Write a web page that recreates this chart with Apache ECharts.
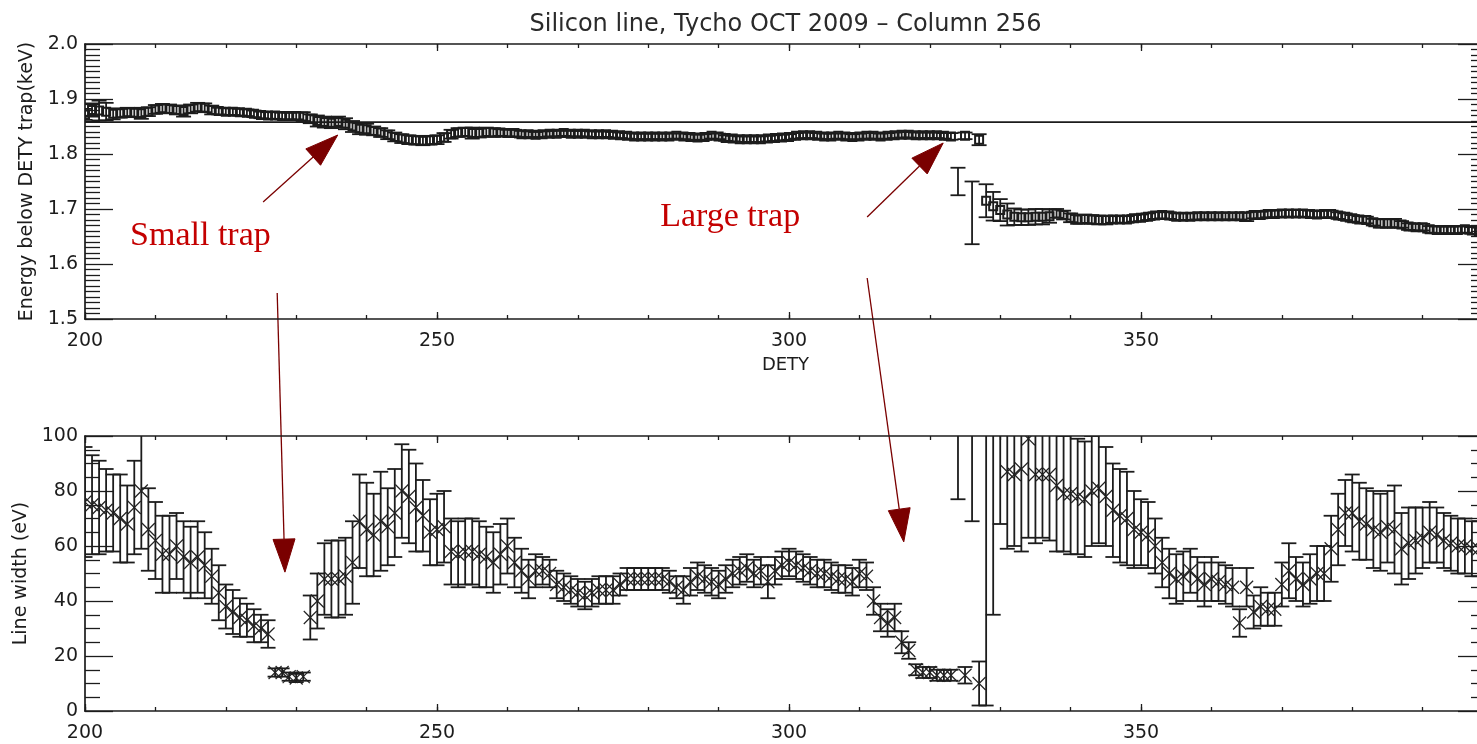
<!DOCTYPE html>
<html>
<head>
<meta charset="utf-8">
<script src="https://cdn.jsdelivr.net/npm/echarts@6/dist/echarts.min.js"></script>
<style>
html, body { margin: 0; padding: 0; background: #fff; overflow: hidden; width: 1477px; height: 744px; }
#c { width: 1500px; height: 744px; }
</style>
</head>
<body>
<div id="c"></div>
<script>
// ---------------- texts ----------------
const titleText = 'Silicon line, Tycho OCT 2009 \u2013 Column 256';
const xAxisName = 'DETY';
const topYAxisName = 'Energy below DETY trap(keV)';
const bottomYAxisName = 'Line width (eV)';

// ---------------- axes / tick labels ----------------
const detyMin = 200;
const detyMax = 399;
const detyTickLabels = [200, 250, 300, 350];
const energyTickLabels = ['1.5', '1.6', '1.7', '1.8', '1.9', '2.0'];
const widthTickLabels = ['0', '20', '40', '60', '80', '100'];

// ---------------- top panel: energy below trap (keV), DETY 200..398 ----------------
const energyStart = 200;
const energy = [
  1.872,1.880,1.879,1.877,1.873,1.874,1.876,1.875,1.874,1.877,
  1.881,1.883,1.882,1.880,1.878,1.882,1.885,1.884,1.880,1.878,
  1.877,1.877,1.876,1.875,1.873,1.871,1.870,1.870,1.869,1.869,
  1.869,1.868,1.864,1.860,1.858,1.857,1.858,1.855,1.850,1.846,
  1.845,1.842,1.839,1.835,1.831,1.828,1.826,1.825,1.824,1.825,
  1.826,1.830,1.836,1.839,1.840,1.838,1.838,1.840,1.839,1.839,
  1.838,1.838,1.836,1.836,1.835,1.836,1.837,1.837,1.838,1.837,
  1.837,1.837,1.836,1.836,1.836,1.835,1.834,1.833,1.832,1.832,
  1.832,1.832,1.832,1.832,1.833,1.832,1.831,1.830,1.831,1.833,
  1.832,1.829,1.828,1.827,1.827,1.827,1.827,1.828,1.829,1.830,
  1.831,1.833,1.834,1.834,1.833,1.832,1.832,1.833,1.832,1.831,
  1.832,1.833,1.833,1.832,1.833,1.834,1.835,1.835,1.834,1.834,
  1.834,1.834,1.833,1.832,1.750,1.833,1.693,1.826,1.715,1.705,
  1.698,1.690,1.686,1.685,1.685,1.686,1.686,1.687,1.692,1.689,
  1.684,1.681,1.682,1.681,1.680,1.680,1.681,1.681,1.681,1.683,
  1.684,1.686,1.688,1.689,1.688,1.686,1.686,1.686,1.687,1.687,
  1.687,1.687,1.687,1.687,1.687,1.686,1.689,1.689,1.691,1.691,
  1.692,1.692,1.692,1.692,1.691,1.690,1.691,1.691,1.688,1.686,
  1.683,1.681,1.680,1.676,1.674,1.674,1.674,1.672,1.668,1.667,
  1.667,1.663,1.662,1.662,1.662,1.662,1.663,1.661,1.660
];
const energyErr = [
  0.010,0.012,0.018,0.016,0.010,0.008,0.008,0.008,0.010,0.008,
  0.008,0.008,0.008,0.008,0.010,0.008,0.008,0.008,0.008,0.006,
  0.006,0.006,0.006,0.006,0.006,0.006,0.006,0.006,0.006,0.006,
  0.006,0.008,0.008,0.010,0.010,0.010,0.010,0.010,0.010,0.010,
  0.010,0.008,0.008,0.008,0.008,0.008,0.008,0.008,0.008,0.008,
  0.008,0.008,0.008,0.008,0.008,0.010,0.008,0.008,0.008,0.006,
  0.006,0.006,0.006,0.005,0.005,0.005,0.005,0.005,0.005,0.005,
  0.005,0.005,0.005,0.005,0.005,0.005,0.005,0.005,0.005,0.005,
  0.005,0.005,0.005,0.005,0.005,0.005,0.005,0.005,0.005,0.005,
  0.005,0.005,0.005,0.005,0.005,0.005,0.005,0.005,0.005,0.005,
  0.005,0.005,0.005,0.005,0.005,0.005,0.005,0.005,0.005,0.005,
  0.005,0.005,0.005,0.005,0.005,0.005,0.005,0.005,0.005,0.005,
  0.005,0.005,0.005,0.006,0.025,0.006,0.057,0.010,0.030,0.026,
  0.020,0.020,0.015,0.014,0.014,0.014,0.014,0.012,0.008,0.008,
  0.008,0.008,0.008,0.008,0.008,0.008,0.006,0.006,0.006,0.006,
  0.006,0.006,0.006,0.006,0.006,0.006,0.006,0.006,0.006,0.006,
  0.006,0.006,0.006,0.006,0.006,0.008,0.006,0.006,0.006,0.006,
  0.006,0.006,0.006,0.006,0.006,0.006,0.006,0.006,0.006,0.006,
  0.006,0.006,0.006,0.006,0.008,0.008,0.008,0.006,0.006,0.006,
  0.006,0.006,0.006,0.006,0.006,0.006,0.006,0.006,0.006
];
// points drawn with an error bar only (no square symbol)
const energyBarOnly = [324, 326];
const referenceEnergy = 1.858;

// ---------------- bottom panel: line width (eV), DETY 200..399 ----------------
const widthStart = 200;
const lineWidth = [
  76,75,74,73,72,70,68,74,80,66,
  62,57,57,60,56,54,56,53,49,43,
  38,36,34,33,31,30,28,14,14,12.5,
  12,12.5,34,40,48,48,48,49,54,69,
  66,64,69,67,72,80,78,74,71,65,
  66,67,58,57,58,58,57,56,54,57,
  60,54,51,48,51,51,50,46,45,44,
  43,42,43,44,44,44,46,48,48,48,
  48,48,48,47,45,44,47,49,48,47,
  46,48,50,51,52,50,51,47,51,53,
  54,53,52,51,50,50,49,48,48,47,
  50,49,40,34,32,34,25,22,15,14,
  14,13,13,13,130,13,125,10,150,115,
  105,87,86,88,99,86,86,86,82,79,
  79,78,77,80,81,78,73,71,70,66,
  65,64,60,54,50,48,49,51,48,46,
  48,47,46,45,32,45,36,38,37,37,
  46,51,48,46,48,50,50,59,66,72,
  72,69,68,66,65,67,66,59,61,62,
  63,65,64,62,61,60,60,59,59,60
];
const lineWidthErr = [
  20,18,17,15,14,16,14,17,21,15,
  14,14,14,12,13,13,13,12,10,10,
  8,8,7,6,6,5,5,1.5,1.5,1.5,
  1.5,1.5,8,10,13,14,14,14,15,17,
  17,15,18,14,16,17,17,16,13,12,
  13,13,12,12,12,12,12,11,11,11,
  10,9,8,7,6,5,5,5,5,5,
  5,5,5,5,5,5,4,4,4,4,
  4,4,4,4,4,5,5,5,5,5,
  5,5,5,5,5,5,5,6,5,5,
  5,5,5,5,5,5,5,5,5,5,
  5,5,5,5,5,5,4,3,2,2,
  2,2,2,2,53,3,56,8,148,80,
  37,28,26,30,36,25,23,24,24,21,
  22,21,21,20,20,18,17,17,17,14,
  12,12,10,9,9,9,9,8,8,8,
  8,7,7,7,5,7,6,7,6,6,
  8,10,8,8,9,10,10,12,13,12,
  14,14,13,14,14,13,16,13,13,12,
  11,11,10,10,10,10,10,10,10,10
];

// ---------------- annotations (in data coordinates of each panel) ----------------
const annotationTexts = [
  { text: 'Small trap', panel: 0, dety: 206.4, value: 1.6500 },
  { text: 'Large trap', panel: 0, dety: 281.7, value: 1.6860 }
];
const annotationArrows = [
  { from: { panel: 0, dety: 225.3, value: 1.7127 }, to: { panel: 0, dety: 235.9, value: 1.8345 } },
  { from: { panel: 0, dety: 227.3, value: 1.5473 }, to: { panel: 1, dety: 228.4, value: 50.5 } },
  { from: { panel: 0, dety: 311.1, value: 1.6855 }, to: { panel: 0, dety: 321.9, value: 1.8200 } },
  { from: { panel: 0, dety: 311.1, value: 1.5745 }, to: { panel: 1, dety: 316.3, value: 61.5 } }
];

// ---------------- build ----------------
const ink = '#1c1c1c';
const font = 'DejaVu Sans';
const energyData = energy.map((v, i) => [energyStart + i, v, energyErr[i]]);
const widthData = lineWidth.map((v, i) => [widthStart + i, v, lineWidthErr[i]]);

function errorBarChildren(api, x, y, e) {
  const p = api.coord([x, y]);
  const hi = api.coord([x, y + e]);
  const lo = api.coord([x, y - e]);
  const cap = 7.5;
  const st = { stroke: ink, lineWidth: 1.8, fill: null };
  return { p, items: [
    { type: 'line', shape: { x1: p[0], y1: hi[1], x2: p[0], y2: lo[1] }, style: st },
    { type: 'line', shape: { x1: p[0] - cap, y1: hi[1], x2: p[0] + cap, y2: hi[1] }, style: st },
    { type: 'line', shape: { x1: p[0] - cap, y1: lo[1], x2: p[0] + cap, y2: lo[1] }, style: st }
  ]};
}

function renderEnergy(params, api) {
  const x = api.value(0), y = api.value(1), e = api.value(2);
  const r = errorBarChildren(api, x, y, e);
  const items = r.items;
  if (energyBarOnly.indexOf(x) < 0) {
    items.push({ type: 'rect', shape: { x: r.p[0] - 4, y: r.p[1] - 4, width: 8, height: 8 },
      style: { fill: null, stroke: ink, lineWidth: 2 } });
  }
  return { type: 'group', children: items };
}

function renderWidth(params, api) {
  const x = api.value(0), y = api.value(1), e = api.value(2);
  const r = errorBarChildren(api, x, y, e);
  const items = r.items;
  const s = 6.5;
  const ms = { stroke: '#222', lineWidth: 1.2 };
  items.push({ type: 'line', shape: { x1: r.p[0] - s, y1: r.p[1] - s, x2: r.p[0] + s, y2: r.p[1] + s }, style: ms });
  items.push({ type: 'line', shape: { x1: r.p[0] - s, y1: r.p[1] + s, x2: r.p[0] + s, y2: r.p[1] - s }, style: ms });
  return { type: 'group', children: items };
}

const labelStyle = { color: ink, fontFamily: font, fontSize: 19 };
const axisLineStyle = { color: ink, width: 1.7 };
const tickStyle = { color: ink, width: 1.3 };

function xAxesFor(gridIndex, withName) {
  const base = { type: 'value', gridIndex, min: detyMin, max: detyMax, splitLine: { show: false }, minorSplitLine: { show: false } };
  return [
    Object.assign({}, base, {
      position: 'bottom', interval: 50,
      axisLine: { show: true, onZero: false, lineStyle: axisLineStyle },
      axisTick: { show: true, inside: true, length: 7, lineStyle: tickStyle },
      axisLabel: Object.assign({ show: true, margin: 13,
        formatter: v => (detyTickLabels.indexOf(v) >= 0 ? String(v) : '') }, labelStyle),
      name: withName ? xAxisName : '', nameLocation: 'middle', nameGap: 37,
      nameTextStyle: { color: ink, fontFamily: font, fontSize: 18 }
    }),
    Object.assign({}, base, {
      position: 'bottom', interval: 10,
      axisLine: { show: false, onZero: false },
      axisTick: { show: true, inside: true, length: 4, lineStyle: tickStyle },
      axisLabel: { show: false }
    }),
    Object.assign({}, base, {
      position: 'top', interval: 50,
      axisLine: { show: true, onZero: false, lineStyle: axisLineStyle },
      axisTick: { show: true, inside: true, length: 7, lineStyle: tickStyle },
      axisLabel: { show: false }
    }),
    Object.assign({}, base, {
      position: 'top', interval: 10,
      axisLine: { show: false, onZero: false },
      axisTick: { show: true, inside: true, length: 4, lineStyle: tickStyle },
      axisLabel: { show: false }
    })
  ];
}

function yAxesFor(gridIndex, min, max, interval, minorSplit, labels, name, nameGap, decimals) {
  const base = { type: 'value', gridIndex, min, max, interval, splitLine: { show: false }, minorSplitLine: { show: false },
    axisLine: { show: true, onZero: false, lineStyle: axisLineStyle },
    axisTick: { show: true, inside: true, length: 28, lineStyle: tickStyle },
    minorTick: { show: true, splitNumber: minorSplit, length: 15, lineStyle: tickStyle } };
  return [
    Object.assign({}, base, {
      position: 'left',
      axisLabel: Object.assign({ show: true, margin: 7,
        formatter: v => { const s = Number(v).toFixed(decimals); return labels.indexOf(s) >= 0 ? s : ''; } }, labelStyle),
      name, nameLocation: 'middle', nameRotate: 90, nameGap,
      nameTextStyle: { color: ink, fontFamily: font, fontSize: 19 }
    }),
    Object.assign({}, base, { position: 'right', axisLabel: { show: false } })
  ];
}

const option = {
  animation: false,
  backgroundColor: '#ffffff',
  textStyle: { fontFamily: font },
  grid: [
    { left: 85, top: 44, width: 1401, height: 275, containLabel: false, outerBoundsMode: 'none' },
    { left: 85, top: 436, width: 1401, height: 275, containLabel: false, outerBoundsMode: 'none' }
  ],
  xAxis: xAxesFor(0, true).concat(xAxesFor(1, false)),
  yAxis: yAxesFor(0, 1.5, 2.0, 0.1, 10, energyTickLabels, topYAxisName, 48, 1)
    .concat(yAxesFor(1, 0, 100, 20, 4, widthTickLabels, bottomYAxisName, 54, 0)),
  series: [
    { type: 'custom', coordinateSystem: 'cartesian2d', xAxisIndex: 0, yAxisIndex: 0,
      clip: true, silent: true, renderItem: renderEnergy, data: energyData,
      dimensions: ['dety', 'energy', 'err'], encode: { x: 0, y: 1 }, z: 3 },
    { type: 'line', xAxisIndex: 0, yAxisIndex: 0, silent: true, symbol: 'none',
      lineStyle: { color: ink, width: 1.6 },
      data: [[detyMin, referenceEnergy], [detyMax, referenceEnergy]], z: 2 },
    { type: 'custom', coordinateSystem: 'cartesian2d', xAxisIndex: 4, yAxisIndex: 2,
      clip: true, silent: true, renderItem: renderWidth, data: widthData,
      dimensions: ['dety', 'width', 'err'], encode: { x: 0, y: 1 }, z: 3 }
  ]
};

const chart = echarts.init(document.getElementById('c'), null, { renderer: 'canvas', width: 1500, height: 744 });
chart.setOption(option);

// ---------------- title + annotations ----------------
const panelSeries = [0, 2];
function toPx(pt) { return chart.convertToPixel({ seriesIndex: panelSeries[pt.panel] }, [pt.dety, pt.value]); }

const arrowColor = '#7a0000';
const textRed = '#c40000';
const graphics = [];
const gridRect = [85, 85 + 1401];
graphics.push({ type: 'text', x: (gridRect[0] + gridRect[1]) / 2, y: 25, silent: true,
  style: { text: titleText, fill: '#2a2a2a', fontFamily: font, fontSize: 24, align: 'center', verticalAlign: 'middle' } });

annotationTexts.forEach(a => {
  const p = toPx(a);
  graphics.push({ type: 'text', x: p[0], y: p[1], silent: true,
    style: { text: a.text, fill: textRed, fontFamily: 'Liberation Serif', fontSize: 34, align: 'left', verticalAlign: 'middle' } });
});

annotationArrows.forEach(a => {
  const s = toPx(a.from), t = toPx(a.to);
  const dx = t[0] - s[0], dy = t[1] - s[1];
  const len = Math.sqrt(dx * dx + dy * dy);
  const ux = dx / len, uy = dy / len;
  const head = 33, half = 11;
  const bx = t[0] - ux * head, by = t[1] - uy * head;
  const nx = -uy, ny = ux;
  graphics.push({ type: 'line', silent: true, shape: { x1: s[0], y1: s[1], x2: bx, y2: by },
    style: { stroke: arrowColor, lineWidth: 1.3 } });
  graphics.push({ type: 'polygon', silent: true,
    shape: { points: [[t[0], t[1]], [bx + nx * half, by + ny * half], [bx - nx * half, by - ny * half]] },
    style: { fill: arrowColor, stroke: arrowColor, lineWidth: 1 } });
});

chart.setOption({ graphic: graphics });
</script>
</body>
</html>
